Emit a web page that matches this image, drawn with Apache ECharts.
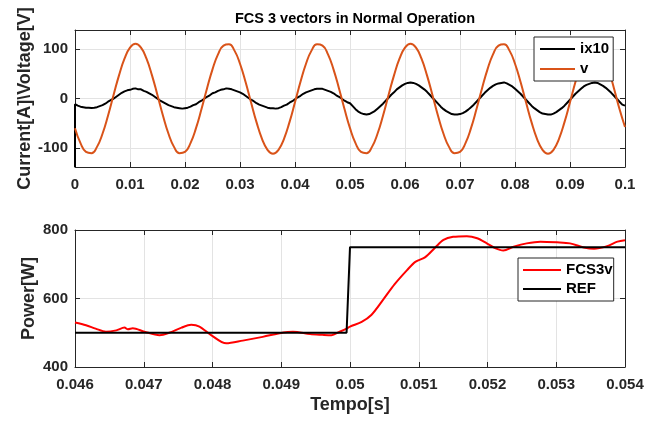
<!DOCTYPE html>
<html><head><meta charset="utf-8">
<script src="https://cdn.jsdelivr.net/npm/echarts@6/dist/echarts.min.js"></script>
<style>html,body{margin:0;padding:0;background:#fff}#c{width:659px;height:422px}</style>
</head><body><div id="c"></div>
<script>
// ---------- text ----------
const titleText = 'FCS 3 vectors in Normal Operation';
const topYName = 'Current[A]\\Voltage[V]';
const botYName = 'Power[W]';
const botXName = 'Tempo[s]';
const topSeriesNames = ['ix10', 'v'];
const botSeriesNames = ['FCS3v', 'REF'];

// ---------- top panel ticks ----------
const topYTicks = [-100, 0, 100];
const topXTicks = [0, 0.01, 0.02, 0.03, 0.04, 0.05, 0.06, 0.07, 0.08, 0.09, 0.1];
// ---------- bottom panel ticks ----------
const botYTicks = [400, 600, 800];
const botXTicks = [0.046, 0.047, 0.048, 0.049, 0.05, 0.051, 0.052, 0.053, 0.054];

// ---------- top panel data ----------
// voltage v, sampled every 1 ms from t = 0
const vDt = 0.001;
const vValues = [
 -59.5,-89.8,-107.5,-110.1,-97.3,-70.8,-34.3,7.0,47.3,80.9,
 103.2,111,103.2,80.9,47.3,7.0,-34.3,-70.8,-97.3,-110.1,
 -107.5,-89.8,-59.5,-20.8,20.8,59.5,89.8,107.5,110.1,97.3,
 70.8,34.3,-7.0,-47.3,-80.9,-103.2,-111,-103.2,-80.9,-47.3,
 -7.0,34.3,70.8,97.3,110.1,107.5,89.8,59.5,20.8,-20.8,
 -59.5,-89.8,-107.5,-110.1,-97.3,-70.8,-34.3,7.0,47.3,80.9,
 103.2,111,103.2,80.9,47.3,7.0,-34.3,-70.8,-97.3,-110.1,
 -107.5,-89.8,-59.5,-20.8,20.8,59.5,89.8,107.5,110.1,97.3,
 70.8,34.3,-7.0,-47.3,-80.9,-103.2,-111,-103.2,-80.9,-47.3,
 -7.0,34.3,70.8,97.3,110.1,107.5,89.8,59.5,20.8,-20.8,
 -57
];
// current x10, sampled every 0.5 ms from t = 0 (first point is the start-up spike)
const ixSpike = -138;
const ixDt = 0.0005;
const ixValues = [
 -11,-14,-16,-17,-18,-18,-18.5,-18,-17,-15,
 -13,-10,-6,-3,0,4,8,12,15,17,
 18,20,21,19,19,16,14,11,8,4,
 0,-4,-7,-10,-13,-15,-17,-18,-19,-20,
 -19,-18,-16,-13,-11,-7,-4,0,4,7,
 11,13,16,18,19,21,20,19,17,15,
 13,10,6,2,-2,-5,-9,-12,-14,-16,
 -18,-19,-19,-20,-19,-17,-14,-12,-8,-5,
 -1,3,6,10,13,15,17,19,20,20,
 20,18,16,14,11,7,4,0,-4,-7,
 -9,-15,-21,-26,-29,-31,-32,-31,-28,-25,
 -20,-15,-10,-4,2,8,13,19,23,27,
 30,32,33,32,30,27,23,19,14,8,
 2,-4,-10,-16,-21,-25,-28,-31,-32,-32,
 -31,-29,-26,-22,-17,-12,-6,0,6,12,
 17,22,26,29,31,32,33,31,28,25,
 20,15,10,4,-2,-8,-14,-19,-23,-27,
 -30,-31,-32,-32,-30,-27,-23,-19,-14,-8,
 -2,4,10,15,20,25,28,30,32,33,
 32,29,26,22,17,12,6,0,-6,-12,
 -14
];

// ---------- bottom panel data ----------
const fcsT = [0.04600,0.04616,0.04630,0.04645,0.04660,0.04672,0.04677,0.04684,0.04701,0.04723,
 0.04737,0.04755,0.04769,0.04781,0.04798,0.04820,0.04844,0.04873,0.04903,0.04917,
 0.04942,0.04960,0.04973,0.04985,0.04995,0.05000,0.05017,0.05031,0.05048,0.05065,
 0.05083,0.05095,0.05109,0.05124,0.05136,0.05150,0.05170,0.05185,0.05199,0.05211,
 0.05223,0.05238,0.05257,0.05277,0.05301,0.05320,0.05340,0.05355,0.05374,0.05389,0.05400];
const fcsP = [530,522,512,503,507,515,510,513,503,493,
 500,515,523,518,493,469,477,488,501,503,
 496,494,493,503,512,518,532,552,596,642,
 683,707,720,749,771,780,782,776,761,747,
 740,751,761,766,764,761,749,745,753,766,770];
const refT = [0.046, 0.04995, 0.05, 0.054];
const refP = [500, 500, 750, 750];

// ---------- build ----------
const FONT = 'Liberation Sans, Arial, Helvetica, sans-serif';
const AX = '#262626';
const GRIDC = '#e3e3e3';

const vData = vValues.map((y, i) => [i * vDt, y]);
const ixData = [[0, ixSpike]].concat(ixValues.map((y, i) => [i * ixDt, y]));
const fcsData = fcsT.map((t, i) => [t, fcsP[i]]);
const refData = refT.map((t, i) => [t, refP[i]]);

const labelStyle = { color: AX, fontFamily: FONT, fontWeight: 'bold', fontSize: 15 };
const nameStyle = { color: AX, fontFamily: FONT, fontWeight: 'bold', fontSize: 18 };

function mainX(gi, ticks, name) {
  return {
    type: 'value', gridIndex: gi, position: 'bottom',
    min: ticks[0], max: ticks[ticks.length - 1], interval: ticks[1] - ticks[0],
    axisLine: { show: true, onZero: false, lineStyle: { color: AX, width: 1 } },
    axisTick: { show: true, inside: true, length: 5, lineStyle: { color: AX } },
    axisLabel: Object.assign({ margin: 10, formatter: v => String(+v.toFixed(4)) }, labelStyle),
    splitLine: { show: true, lineStyle: { color: GRIDC, width: 1 } },
    name: name || '', nameLocation: 'middle', nameGap: 29, nameMoveOverlap: false, nameTextStyle: nameStyle
  };
}
function sideX(gi, ticks) {
  return {
    type: 'value', gridIndex: gi, position: 'top',
    min: ticks[0], max: ticks[ticks.length - 1], interval: ticks[1] - ticks[0],
    axisLine: { show: true, onZero: false, lineStyle: { color: AX, width: 1 } },
    axisTick: { show: true, inside: true, length: 5, lineStyle: { color: AX } },
    axisLabel: { show: false }, splitLine: { show: false }
  };
}
function mainY(gi, ticks, lo, hi, name, gap) {
  return {
    type: 'value', gridIndex: gi, position: 'left', min: lo, max: hi,
    axisLine: { show: true, onZero: false, lineStyle: { color: AX, width: 1 } },
    axisTick: { show: true, inside: true, length: 5, lineStyle: { color: AX }, customValues: ticks },
    axisLabel: Object.assign({ margin: 7, customValues: ticks }, labelStyle),
    splitLine: { show: true, lineStyle: { color: GRIDC, width: 1 } },
    name: name, nameLocation: 'middle', nameGap: gap, nameRotate: 90, nameMoveOverlap: false,
    nameTextStyle: nameStyle
  };
}
function sideY(gi, ticks, lo, hi) {
  return {
    type: 'value', gridIndex: gi, position: 'right', min: lo, max: hi,
    axisLine: { show: true, onZero: false, lineStyle: { color: AX, width: 1 } },
    axisTick: { show: true, inside: true, length: 5, lineStyle: { color: AX }, customValues: ticks },
    axisLabel: { show: false, customValues: ticks }, splitLine: { show: false }
  };
}

const legendText = { fontFamily: FONT, fontWeight: 'bold', fontSize: 15, color: '#000', lineHeight: 18 };

const chart = echarts.init(document.getElementById('c'), null, { renderer: 'canvas' });
chart.setOption({
  animation: false,
  backgroundColor: '#ffffff',
  title: {
    text: titleText, left: 350, top: 6, textAlign: 'center',
    textStyle: { fontFamily: FONT, fontWeight: 'bold', fontSize: 14.5, color: '#000' }
  },
  grid: [
    { left: 75, width: 550, top: 30, height: 137, show: false },
    { left: 75, width: 550, top: 230, height: 137, show: false }
  ],
  xAxis: [
    mainX(0, topXTicks, ''), sideX(0, topXTicks),
    mainX(1, botXTicks, botXName), sideX(1, botXTicks)
  ],
  yAxis: [
    mainY(0, topYTicks, -138, 139, topYName, 41), sideY(0, topYTicks, -138, 139),
    mainY(1, botYTicks, 400, 800, botYName, 37), sideY(1, botYTicks, 400, 800)
  ],
  legend: [
    {
      data: topSeriesNames, orient: 'vertical', left: 534, top: 37,
      padding: [3, 4, 3, 6], itemGap: 2, itemWidth: 35, itemHeight: 2, icon: 'rect',
      borderColor: AX, borderWidth: 1, backgroundColor: '#fff', textStyle: legendText
    },
    {
      data: botSeriesNames, orient: 'vertical', left: 518, top: 258,
      padding: [3, 1, 3, 5], itemGap: 1, itemWidth: 38, itemHeight: 2, icon: 'rect',
      borderColor: AX, borderWidth: 1, backgroundColor: '#fff', textStyle: legendText
    }
  ],
  series: [
    { name: topSeriesNames[0], type: 'line', xAxisIndex: 0, yAxisIndex: 0, data: ixData,
      showSymbol: false, symbol: 'none', lineStyle: { color: '#000', width: 2 }, itemStyle: { color: '#000' } },
    { name: topSeriesNames[1], type: 'line', xAxisIndex: 0, yAxisIndex: 0, data: vData, smooth: 0.5,
      showSymbol: false, symbol: 'none', lineStyle: { color: '#D95319', width: 2 }, itemStyle: { color: '#D95319' } },
    { name: botSeriesNames[0], type: 'line', xAxisIndex: 2, yAxisIndex: 2, data: fcsData, smooth: 0.3,
      showSymbol: false, symbol: 'none', lineStyle: { color: '#FF0000', width: 2 }, itemStyle: { color: '#FF0000' } },
    { name: botSeriesNames[1], type: 'line', xAxisIndex: 2, yAxisIndex: 2, data: refData,
      showSymbol: false, symbol: 'none', lineStyle: { color: '#000', width: 2 }, itemStyle: { color: '#000' } }
  ]
});
</script>
</body></html>
